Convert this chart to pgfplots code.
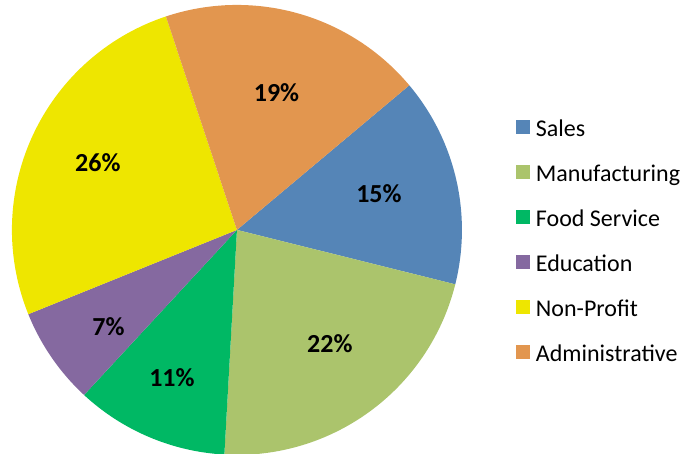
\documentclass[border=0pt]{standalone}
\usepackage{pgfplots}
\usepackage{pgfplotstable}
\pgfplotsset{compat=1.18}
\usepackage{fontspec}
\setmainfont{Carlito}
\definecolor{cSales}{HTML}{5585B7}
\definecolor{cManu}{HTML}{ABC46C}
\definecolor{cFood}{HTML}{00B864}
\definecolor{cEdu}{HTML}{8569A0}
\definecolor{cNon}{HTML}{EEE600}
\definecolor{cAdm}{HTML}{E2964F}
\newcommand\labelfont{\fontsize{26}{31}\selectfont\bfseries}
\pgfplotstableread[col sep=comma]{
name,value,color,lx,ly
Sales,15,cSales,0.631,0.160
Manufacturing,22,cManu,0.413,-0.507
Food Service,11,cFood,-0.289,-0.658
Education,7,cEdu,-0.571,-0.431
Non-Profit,26,cNon,-0.618,0.298
Administrative,19,cAdm,0.176,0.611
}\piedata
\begin{document}
\begin{tikzpicture}
\begin{axis}[
  scale only axis, width=682pt, height=454pt,
  xmin=-1.053, xmax=1.978, ymin=-0.996, ymax=1.022,
  hide axis, clip=false,
  legend image code/.code={\path[#1, draw=none] (0pt,-7pt) rectangle (14pt,7pt);},
  legend cell align=left,
  legend style={draw=none, fill=none, inner sep=0pt, outer sep=0pt,
    at={(axis cs:1.24,0.502)}, anchor=north west,
    font=\fontsize{24}{28}\selectfont,
    row sep=25pt, column sep=6pt,
    nodes={inner sep=0pt, outer sep=0pt, text height=20pt, text depth=0pt}},
]
\pgfplotstablegetrowsof{\piedata}
\pgfmathtruncatemacro\nrows{\pgfplotsretval-1}
\gdef\cumangle{40}
\pgfplotsforeachungrouped \i in {0,...,\nrows}{%
  \pgfplotstablegetelem{\i}{value}\of\piedata \let\pv\pgfplotsretval
  \pgfplotstablegetelem{\i}{color}\of\piedata \let\pc\pgfplotsretval
  \pgfplotstablegetelem{\i}{name}\of\piedata \let\pn\pgfplotsretval
  \pgfplotstablegetelem{\i}{lx}\of\piedata \let\plx\pgfplotsretval
  \pgfplotstablegetelem{\i}{ly}\of\piedata \let\ply\pgfplotsretval
  \pgfmathsetmacro\aend{\cumangle}%
  \pgfmathsetmacro\astart{\cumangle-3.6*\pv}%
  \edef\slice{\noexpand\addplot[fill=\pc, draw=none, domain=\astart:\aend, samples=90, variable=\noexpand\t]
     ({cos(\noexpand\t)},{sin(\noexpand\t)}) -- (axis cs:0,0) -- cycle;
     \noexpand\addlegendentry{\pn}
     \noexpand\node[font=\noexpand\labelfont, inner sep=0pt] at (axis cs:\plx,\ply) {\pv\noexpand\%};}%
  \slice
  \xdef\cumangle{\astart}%
}
\end{axis}
\pgfresetboundingbox
\path (current axis.south west) rectangle (current axis.north east);
\end{tikzpicture}
\end{document}
